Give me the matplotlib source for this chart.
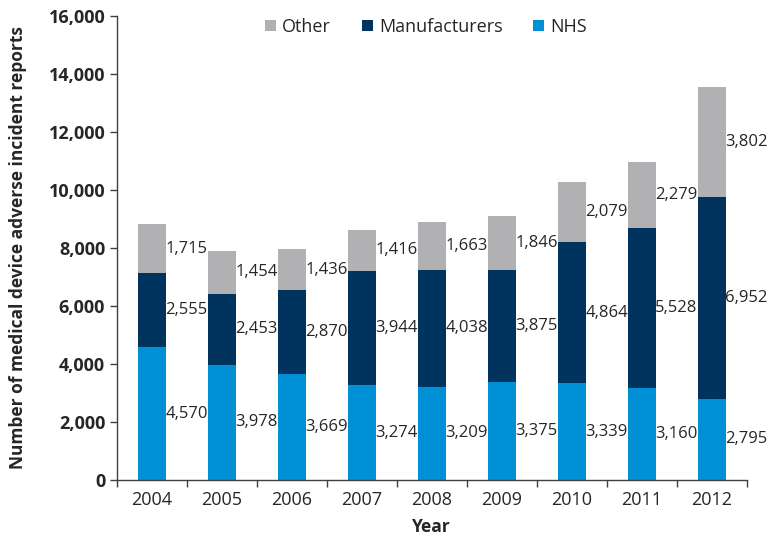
import matplotlib
matplotlib.use("Agg")
import matplotlib.pyplot as plt
from matplotlib.ticker import FuncFormatter
import numpy as np

years = ["2004", "2005", "2006", "2007", "2008", "2009", "2010", "2011", "2012"]
nhs = [4570, 3978, 3669, 3274, 3209, 3375, 3339, 3160, 2795]
manufacturers = [2555, 2453, 2870, 3944, 4038, 3875, 4864, 5528, 6952]
other = [1715, 1454, 1436, 1416, 1663, 1846, 2079, 2279, 3802]

c_nhs = "#0090D6"
c_man = "#00335E"
c_oth = "#B1B1B3"
txt = "#262626"

plt.rcParams["font.family"] = ["Open Sans", "DejaVu Sans"]

fig = plt.figure(figsize=(7.84, 5.37), dpi=100)
ax = fig.add_axes([117/784, 1 - 480/537, 630/784, 464/537])

x = np.arange(len(years))
w = 0.4
b1 = ax.bar(x, nhs, w, color=c_nhs, label="NHS", zorder=2)
bottom2 = np.array(nhs)
b2 = ax.bar(x, manufacturers, w, bottom=bottom2, color=c_man, label="Manufacturers", zorder=2)
bottom3 = bottom2 + np.array(manufacturers)
b3 = ax.bar(x, other, w, bottom=bottom3, color=c_oth, label="Other", zorder=2)

for series, bottoms in ((nhs, np.zeros(len(years))), (manufacturers, bottom2), (other, bottom3)):
    for xi, v, b in zip(x, series, bottoms):
        ax.text(xi + w / 2 - 0.01, b + v / 2, f"{v:,}", ha="left", va="center",
                fontsize=12, color=txt, zorder=1)

ax.set_xlim(-0.5, len(years) - 0.5)
ax.set_ylim(0, 16000)
ax.set_yticks(np.arange(0, 16001, 2000))
ax.yaxis.set_major_formatter(FuncFormatter(lambda v, p: f"{int(v):,}"))
ax.set_xticks(x)
ax.set_xticklabels(years)
ax.set_xticks(np.arange(-0.5, len(years)), minor=True)
ax.tick_params(axis="x", which="major", length=0, labelsize=13, colors=txt, pad=8)
ax.tick_params(axis="x", which="minor", length=5, width=1, color="#404040")
ax.tick_params(axis="y", length=5, width=1, color="#404040", labelsize=13, labelcolor=txt)
for lab in ax.get_yticklabels():
    lab.set_fontweight("bold")

for s in ("top", "right"):
    ax.spines[s].set_visible(False)
for s in ("left", "bottom"):
    ax.spines[s].set_color("#404040")
    ax.spines[s].set_linewidth(1)

ax.set_xlabel("Year", fontsize=12.5, fontweight="bold", color=txt)
ax.set_ylabel("Number of medical device adverse incident reports", fontsize=12.5,
              fontweight="bold", color=txt)
ax.xaxis.set_label_coords((431 - 117) / 630, (480 - 527) / 464)
ax.yaxis.set_label_coords((18 - 117) / 630, 0.5)
ax.xaxis.label.set_va("center")
ax.yaxis.label.set_va("center")

handles = [b3, b2, b1]
leg = ax.legend(handles, ["Other", "Manufacturers", "NHS"], loc="center",
                bbox_to_anchor=((426 - 117) / 630, (480 - 27) / 464), ncol=3, frameon=False,
                fontsize=13, handlelength=0.6, handleheight=0.6, handletextpad=0.35,
                columnspacing=1.7)
for t in leg.get_texts():
    t.set_color(txt)

fig.savefig("out.png", dpi=100)
